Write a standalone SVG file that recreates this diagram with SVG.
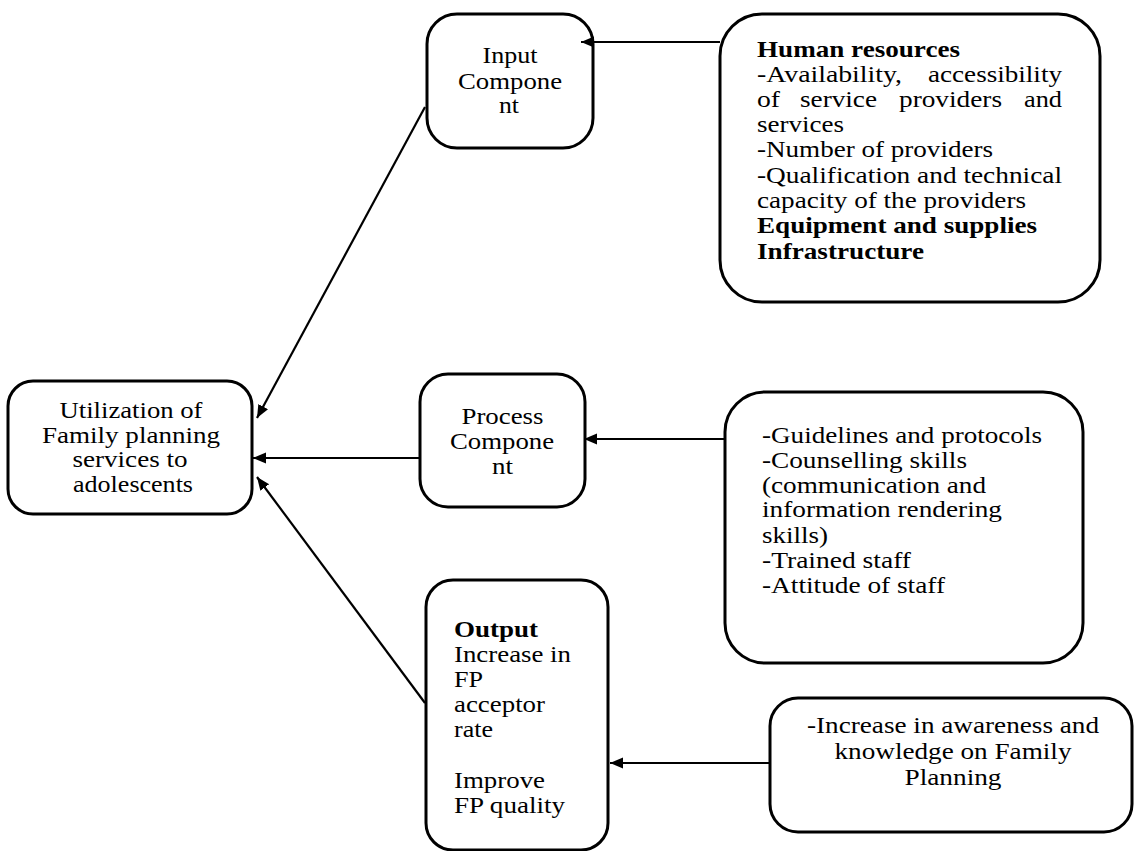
<svg xmlns="http://www.w3.org/2000/svg" width="1134" height="851" viewBox="0 0 1134 851">
<style>
.box{fill:#fff;stroke:#000;stroke-width:3}
.con{stroke:#000;stroke-width:2.2;fill:none}
.b{font-weight:bold}
.c{text-anchor:middle}
</style>
<defs>
<marker id="ah" markerUnits="userSpaceOnUse" markerWidth="14" markerHeight="12" refX="13" refY="5.5" orient="auto">
<path d="M0,0 L13,5.5 L0,11 z" fill="#000"/>
</marker>
</defs>
<rect width="1134" height="851" fill="#fff"/>
<g font-family="Liberation Serif, Times New Roman, serif" font-size="24" fill="#000">
<g id="input">
<rect class="box" x="427" y="14" width="166" height="134" rx="30"/>
<text class="c" x="510" y="63" textLength="55" lengthAdjust="spacingAndGlyphs">Input</text>
<text class="c" x="510" y="89" textLength="104" lengthAdjust="spacingAndGlyphs">Compone</text>
<text class="c" x="509" y="113" textLength="20" lengthAdjust="spacingAndGlyphs">nt</text>
</g>
<g id="human-resources">
<rect class="box" x="720" y="14" width="380" height="288" rx="42"/>
<text class="b" x="757" y="57" textLength="203" lengthAdjust="spacingAndGlyphs">Human resources</text>
<text x="757" y="82" textLength="145" lengthAdjust="spacingAndGlyphs">-Availability,</text>
<text x="928" y="82" textLength="134" lengthAdjust="spacingAndGlyphs">accessibility</text>
<text x="757" y="107" textLength="23" lengthAdjust="spacingAndGlyphs">of</text>
<text x="800" y="107" textLength="77" lengthAdjust="spacingAndGlyphs">service</text>
<text x="899" y="107" textLength="103" lengthAdjust="spacingAndGlyphs">providers</text>
<text x="1024" y="107" textLength="38" lengthAdjust="spacingAndGlyphs">and</text>
<text x="757" y="132" textLength="87" lengthAdjust="spacingAndGlyphs">services</text>
<text x="757" y="157" textLength="236" lengthAdjust="spacingAndGlyphs">-Number of providers</text>
<text x="757" y="183" textLength="305" lengthAdjust="spacingAndGlyphs">-Qualification and technical</text>
<text x="757" y="208" textLength="269" lengthAdjust="spacingAndGlyphs">capacity of the providers</text>
<text class="b" x="757" y="233" textLength="280" lengthAdjust="spacingAndGlyphs">Equipment and supplies</text>
<text class="b" x="757" y="259" textLength="167" lengthAdjust="spacingAndGlyphs">Infrastructure</text>
</g>
<g id="utilization">
<rect class="box" x="8" y="381" width="244" height="133" rx="25"/>
<text class="c" x="131" y="418" textLength="143" lengthAdjust="spacingAndGlyphs">Utilization of</text>
<text class="c" x="131" y="443" textLength="178" lengthAdjust="spacingAndGlyphs">Family planning</text>
<text class="c" x="130" y="467" textLength="115" lengthAdjust="spacingAndGlyphs">services to</text>
<text class="c" x="133" y="492" textLength="120" lengthAdjust="spacingAndGlyphs">adolescents</text>
</g>
<g id="process">
<rect class="box" x="420" y="374" width="165" height="133" rx="28"/>
<text class="c" x="502.5" y="424" textLength="82" lengthAdjust="spacingAndGlyphs">Process</text>
<text class="c" x="502" y="449" textLength="104" lengthAdjust="spacingAndGlyphs">Compone</text>
<text class="c" x="502.5" y="474" textLength="21" lengthAdjust="spacingAndGlyphs">nt</text>
</g>
<g id="process-details">
<rect class="box" x="725" y="392" width="358" height="271" rx="40"/>
<text x="762" y="443" textLength="280" lengthAdjust="spacingAndGlyphs">-Guidelines and protocols</text>
<text x="762" y="468" textLength="205" lengthAdjust="spacingAndGlyphs">-Counselling skills</text>
<text x="762" y="493" textLength="224" lengthAdjust="spacingAndGlyphs">(communication and</text>
<text x="762" y="517" textLength="240" lengthAdjust="spacingAndGlyphs">information rendering</text>
<text x="762" y="543" textLength="66" lengthAdjust="spacingAndGlyphs">skills)</text>
<text x="762" y="568" textLength="149" lengthAdjust="spacingAndGlyphs">-Trained staff</text>
<text x="762" y="593" textLength="183" lengthAdjust="spacingAndGlyphs">-Attitude of staff</text>
</g>
<g id="output">
<rect class="box" x="426" y="580" width="182" height="270" rx="27"/>
<text class="b" x="454" y="637" textLength="84" lengthAdjust="spacingAndGlyphs">Output</text>
<text x="454" y="662" textLength="117" lengthAdjust="spacingAndGlyphs">Increase in</text>
<text x="454" y="687" textLength="29" lengthAdjust="spacingAndGlyphs">FP</text>
<text x="454" y="712" textLength="91" lengthAdjust="spacingAndGlyphs">acceptor</text>
<text x="454" y="737" textLength="39" lengthAdjust="spacingAndGlyphs">rate</text>
<text x="454" y="788" textLength="91" lengthAdjust="spacingAndGlyphs">Improve</text>
<text x="454" y="813" textLength="111" lengthAdjust="spacingAndGlyphs">FP quality</text>
</g>
<g id="awareness">
<rect class="box" x="770" y="698" width="362" height="134" rx="28"/>
<text class="c" x="953" y="733" textLength="292" lengthAdjust="spacingAndGlyphs">-Increase in awareness and</text>
<text class="c" x="953" y="759" textLength="237" lengthAdjust="spacingAndGlyphs">knowledge on Family</text>
<text class="c" x="953" y="785" textLength="97" lengthAdjust="spacingAndGlyphs">Planning</text>
</g>
</g>
<g id="connectors">
<line class="con" x1="720" y1="42" x2="581" y2="42" marker-end="url(#ah)"/>
<line class="con" x1="725" y1="439" x2="584" y2="439" marker-end="url(#ah)"/>
<line class="con" x1="420" y1="458" x2="253" y2="458" marker-end="url(#ah)"/>
<line class="con" x1="425" y1="107" x2="257" y2="418" marker-end="url(#ah)"/>
<line class="con" x1="425" y1="703" x2="257" y2="477" marker-end="url(#ah)"/>
<line class="con" x1="770" y1="763" x2="610" y2="763" marker-end="url(#ah)"/>
</g>
</svg>
